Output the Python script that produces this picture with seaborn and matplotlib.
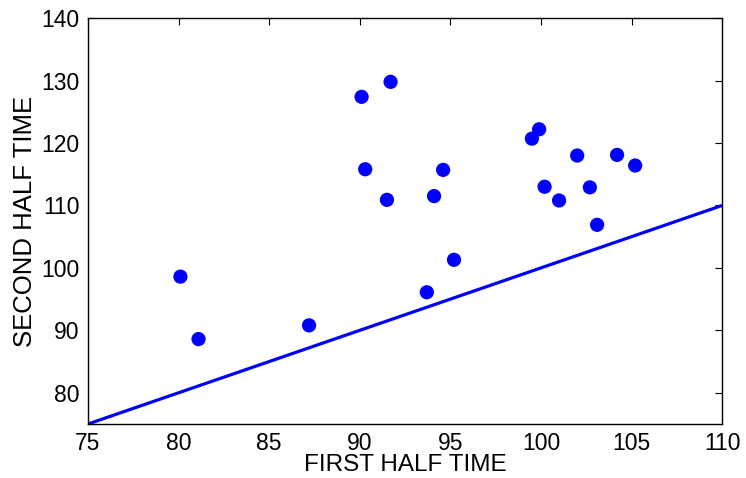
import matplotlib
matplotlib.use("Agg")
import matplotlib.pyplot as plt
import seaborn as sns
import pandas as pd


# points
first_half = [80.1, 81.1, 87.2, 90.1, 91.7, 90.3, 91.5, 94.1, 94.6, 93.7,
              95.2, 99.5, 99.9, 100.2, 101.0, 102.0, 102.7, 103.1, 104.2, 105.2]
second_half = [98.6, 88.6, 90.8, 127.4, 129.8, 115.8, 110.9, 111.5, 115.7, 96.1,
               101.3, 120.7, 122.2, 113.0, 110.8, 118.0, 112.9, 106.9, 118.1, 116.4]

# equal-time reference line
line_x = [75, 110]
line_y = [75, 110]

x_ticks = [75, 80, 85, 90, 95, 100, 105, 110]
y_ticks = [80, 90, 100, 110, 120, 130, 140]

df = pd.DataFrame({'first': first_half, 'second': second_half})

sns.set_style('white')
plt.rcParams['font.family'] = ['Liberation Sans', 'DejaVu Sans']
plt.rcParams['text.color'] = 'black'
plt.rcParams['axes.labelcolor'] = 'black'

fig = plt.figure(figsize=(7.46, 4.78), dpi=100)
ax = fig.add_axes([0.118, 0.113, 0.850, 0.849])

sns.lineplot(x=line_x, y=line_y, color='#0000ff', linewidth=2.3, ax=ax)
sns.scatterplot(data=df, x='first', y='second', color='#0000ff', s=105,
                edgecolor='none', ax=ax, zorder=3)

ax.set_xlim(75, 110)
ax.set_ylim(75, 140)
ax.set_xticks(x_ticks)
ax.set_yticks(y_ticks)
ax.tick_params(direction='in', length=5, width=0.8, top=True, right=True,
               labelsize=16.5, colors='black', pad=6)
for sp in ax.spines.values():
    sp.set_color('black')
    sp.set_linewidth(1.0)

ax.set_xlabel('FIRST HALF TIME', fontsize=17.5, labelpad=-1, color='black')
ax.set_ylabel('SECOND HALF TIME', fontsize=18.5, labelpad=3, color='black')

fig.savefig('out.png', dpi=100)
